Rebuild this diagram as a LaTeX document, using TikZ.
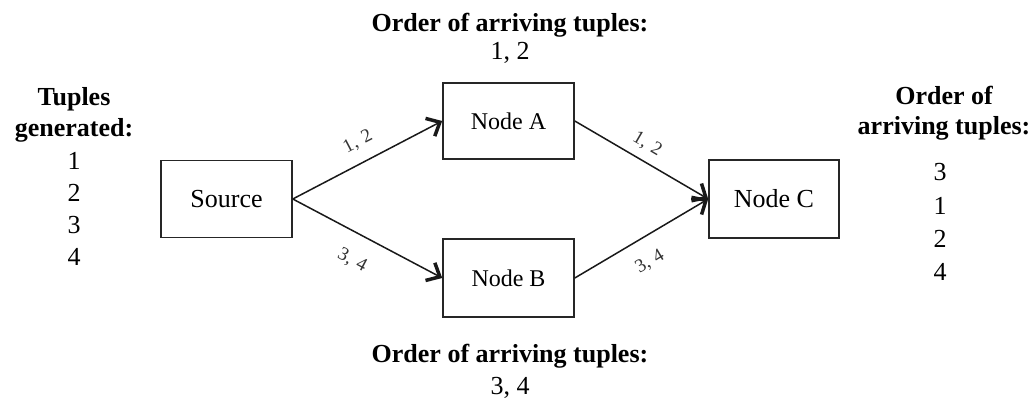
\documentclass[tikz,border=0pt]{standalone}
\usepackage{fontspec}
\setmainfont{Liberation Serif}
\usetikzlibrary{arrows.meta}
\tikzset{
  box/.style={draw=black!85, line width=1.6pt, minimum width=131pt, minimum height=77pt, inner sep=0pt},
  boxtext/.style={font=\fontsize{26}{30}\selectfont},
  smalltext/.style={font=\fontsize{24}{28}\selectfont},
  head/.style={font=\bfseries\fontsize{26}{30}\selectfont, anchor=base, inner sep=0pt},
  num/.style={font=\fontsize{26}{30}\selectfont, anchor=base, inner sep=0pt},
  elabel/.style={font=\fontsize{19}{22}\selectfont, text=black!80, sloped, inner sep=0pt},
  conn/.style={line width=1.5pt, draw=black!90, -{Straight Barb[length=11pt,width=20pt,line width=3.5pt]}}
}
\begin{document}
\begin{tikzpicture}[x=1pt,y=-1pt]
\useasboundingbox (0,0) rectangle (1036,403);
% boxes
\node[box, boxtext] (src) at (226.5,199) {Source};
\node[box, smalltext, minimum height=76pt] (na) at (508.5,121) {Node A};
\node[box, smalltext, minimum height=78pt] (nb) at (508.5,278) {Node B};
\node[box, boxtext, minimum width=130pt, minimum height=78pt] (nc) at (774,199) {Node C};
% connectors
\draw[conn] (src.east) -- node[elabel, pos=0.5, above=12pt] {1,\,\,2} (na.west);
\draw[conn] (src.east) -- node[elabel, pos=0.48, below=18pt] {3,\,\,4} (nb.west);
\draw[conn] (na.east) -- node[elabel, pos=0.48, above=8pt] {1,\,\,2} (nc.west);
\draw[conn] (nb.east) -- node[elabel, pos=0.47, below=16pt] {3,\,\,4} (nc.west);
% top label
\node[head] (toph) at (510,32) {Order of arriving tuples:};
\node[num] (topn) at (510,60) {1, 2};
% bottom label
\node[head] (both) at (510,362) {Order of arriving tuples:};
\node[num] (botn) at (510,394) {3, 4};
% left column
\node[head] (lh1) at (74,106) {Tuples};
\node[head] (lh2) at (74,137) {generated:};
\node[num] (l1) at (74,170) {1};
\node[num] (l2) at (74,202) {2};
\node[num] (l3) at (74,234) {3};
\node[num] (l4) at (74,266) {4};
% right column
\node[head] (rh1) at (944,105) {Order of};
\node[head] (rh2) at (944,135) {arriving tuples:};
\node[num] (r1) at (940,181) {3};
\node[num] (r2) at (940,215) {1};
\node[num] (r3) at (940,248) {2};
\node[num] (r4) at (940,281) {4};
\end{tikzpicture}
\end{document}
